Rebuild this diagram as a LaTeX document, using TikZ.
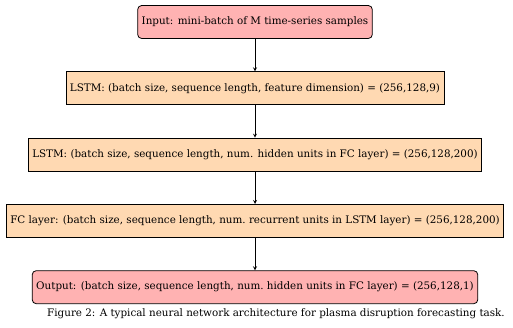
\documentclass[tikz,border=0pt]{standalone}
\usepackage{fontspec}
\setmainfont{DejaVu Serif}
\usetikzlibrary{positioning}

\begin{document}
\begin{tikzpicture}[x=1pt, y=-1pt, node distance=32.5pt, font=\fontsize{10.35}{12}\selectfont]

\tikzstyle{BOX} = [rectangle, rounded corners, minimum height=33pt, inner xsep=4pt, text centered, draw=black, line width=0.8pt, fill=red!30]
\tikzstyle{RECT} = [rectangle, minimum height=33pt, inner xsep=4pt, text centered, draw=black, line width=0.8pt, fill=orange!30]
\tikzstyle{arrow} = [line width=0.8pt,->,>=stealth]

\useasboundingbox (0,0) rectangle (513,328);

\node (input) [BOX] at (255,22) {Input: mini-batch of M time-series samples};
\node (lstmA) [RECT, below=of input] {LSTM: (batch size, sequence length, feature dimension) = (256,128,9)};
\node (lstmB) [RECT, below=of lstmA] {LSTM: (batch size, sequence length, num. hidden units in FC layer) = (256,128,200)};
\node (fc) [RECT, below=of lstmB] {FC layer: (batch size, sequence length, num.\ recurrent units in LSTM layer) = (256,128,200)};
\node (output) [BOX, below=of fc] {Output: (batch size, sequence length, num.\ hidden units in FC layer) = (256,128,1)};
\node (caption) at (276,314) {Figure 2: A typical neural network architecture for plasma disruption forecasting task.};

\draw[arrow] (input) -- (lstmA);
\draw[arrow] (lstmA) -- (lstmB);
\draw[arrow] (lstmB) -- (fc);
\draw[arrow] (fc) -- (output);

\end{tikzpicture}
\end{document}
